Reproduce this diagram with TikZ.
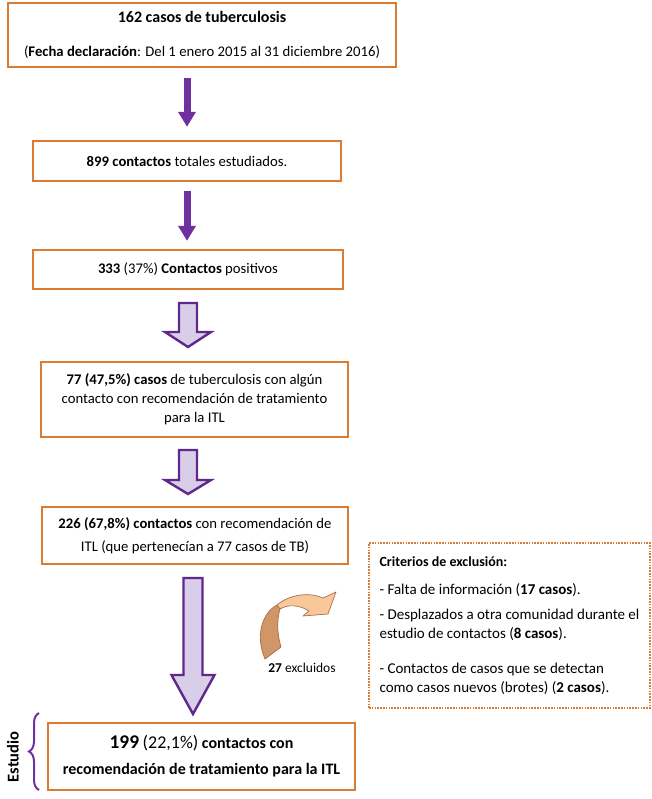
\documentclass[tikz,border=0pt]{standalone}
\usepackage{fontspec}
\setmainfont{Carlito}
\usepackage{tikz}
\usetikzlibrary{arrows.meta, positioning, calc, decorations.pathreplacing}
\definecolor{boxorange}{RGB}{218,124,52}
\definecolor{arrpurple}{RGB}{112,48,160}
\definecolor{hollowline}{RGB}{96,40,140}
\definecolor{hollowfill}{RGB}{216,206,232}
\definecolor{curvelight}{RGB}{248,200,154}
\definecolor{curvedark}{RGB}{208,150,104}
\definecolor{curveline}{RGB}{168,112,72}
\tikzset{
  stepbox/.style={rectangle, draw=boxorange, line width=2.4pt, align=center,
    inner sep=0pt, font=\fontsize{14.7}{19}\selectfont, fill=white},
  exclbox/.style={rectangle, draw=boxorange, line width=1.8pt,
    dash pattern=on 1.6pt off 1.2pt, align=left, inner sep=0pt,
    font=\fontsize{15}{19.5}\selectfont},
  solidarr/.style={line width=7pt, draw=arrpurple, -{Triangle[width=17pt,length=15pt]}},
  hollowarr/.style={draw=hollowline, line width=2.4pt, fill=hollowfill, line join=miter},
  curvearr/.style={draw=curveline, line width=0.7pt, line join=round},
  sidelabel/.style={font=\fontsize{13.5}{16}\selectfont},
}
% hollow block arrow: x, top, bottom, half shaft, half head, head length
\newcommand{\blockarrow}[6]{%
  \draw[hollowarr] (#1-#4,#2) -- (#1+#4,#2) -- (#1+#4,#3-#6) -- (#1+#5,#3-#6)
    -- (#1,#3) -- (#1-#5,#3-#6) -- (#1-#4,#3-#6) -- cycle;}

\begin{document}
\begin{tikzpicture}[x=1pt, y=-1pt]
  \fill[white] (0,0) rectangle (651,799);
  \useasboundingbox (0,0) rectangle (651,799);

  % Flow boxes
  \node[stepbox, minimum width=388pt, minimum height=64pt] (casos) at (202,35)
    {{\fontsize{16}{19}\selectfont\textbf{162 casos de tuberculosis}}\\[15pt]
     (\textbf{Fecha declaración}: Del 1 enero 2015 al 31 diciembre 2016)};
  \node[stepbox, minimum width=308pt, minimum height=40pt] (contactos) at (187,161)
    {\textbf{899 contactos} totales estudiados.};
  \node[stepbox, minimum width=310pt, minimum height=39pt] (positivos) at (188,269.5)
    {\textbf{333} (37\%) \textbf{Contactos} positivos};
  \node[stepbox, minimum width=307pt, minimum height=75pt] (casositl) at (194.5,399.5)
    {\textbf{77 (47,5\%) casos} de tuberculosis con algún\\
     contacto con recomendación de tratamiento\\
     para la ITL};
  \node[stepbox, minimum width=306pt, minimum height=57pt,
    font=\fontsize{14.7}{23}\selectfont] (contitl) at (195,535.5)
    {\textbf{226 (67,8\%) contactos} con recomendación de\\
     ITL (que pertenecían a 77 casos de TB)};
  \node[stepbox, minimum width=307pt, minimum height=67pt,
    font=\fontsize{16}{26}\selectfont\bfseries] (estudio) at (201.5,756.5)
    {{\fontsize{19.4}{26}\selectfont 199} {\mdseries\fontsize{18}{26}\selectfont(22,1\%)} contactos con\\
     recomendación de tratamiento para la ITL};

  % Solid arrows
  \draw[solidarr, shorten <=10pt, shorten >=13pt] (casos.south -| contactos.north) -- (contactos.north);
  \draw[solidarr, shorten <=9pt, shorten >=8pt] (contactos.south) -- (contactos.south |- positivos.north);

  % Hollow arrows
  \blockarrow{188}{303}{347}{9}{23}{15}
  \blockarrow{188}{450}{494}{9}{23}{14}
  \blockarrow{193}{578}{714}{9.5}{21.5}{39}

  % Exclusion criteria
  \node[exclbox, minimum width=281pt, minimum height=165pt] (criterios) at (509.5,625.5)
    {{\fontsize{14}{19.5}\selectfont\textbf{Criterios de exclusión:}}\\[9pt]
     - Falta de información (\textbf{17 casos}).\\[5pt]
     - Desplazados a otra comunidad durante el\\
     estudio de contactos (\textbf{8 casos}).\\[15pt]
     - Contactos de casos que se detectan\\
     como casos nuevos (brotes) (\textbf{2 casos}).};

  % Curved arrow towards the criteria
  \filldraw[curvearr, fill=curvedark] (265,659) .. controls (255,636) and (262,613) .. (277,605)
    -- (280,609) .. controls (276,622) and (278,637) .. (281,647) -- cycle;
  \filldraw[curvearr, fill=curvelight] (277,605) .. controls (290,594) and (310,592) .. (323,598)
    -- (336,592) -- (328,614) -- (303,616) -- (309,611)
    .. controls (300,605) and (288,604) .. (280,609) -- cycle;
  \node[sidelabel] (excluidos) at (302,668) {\textbf{27} excluidos};

  % Study brace
  \draw[arrpurple, line width=2pt, decorate, decoration={brace, amplitude=10pt}]
    (39,790) -- (39,713);
  \node[rotate=90, font=\fontsize{16.5}{18}\selectfont\bfseries] (lblestudio) at (13,757) {Estudio};
\end{tikzpicture}
\end{document}
